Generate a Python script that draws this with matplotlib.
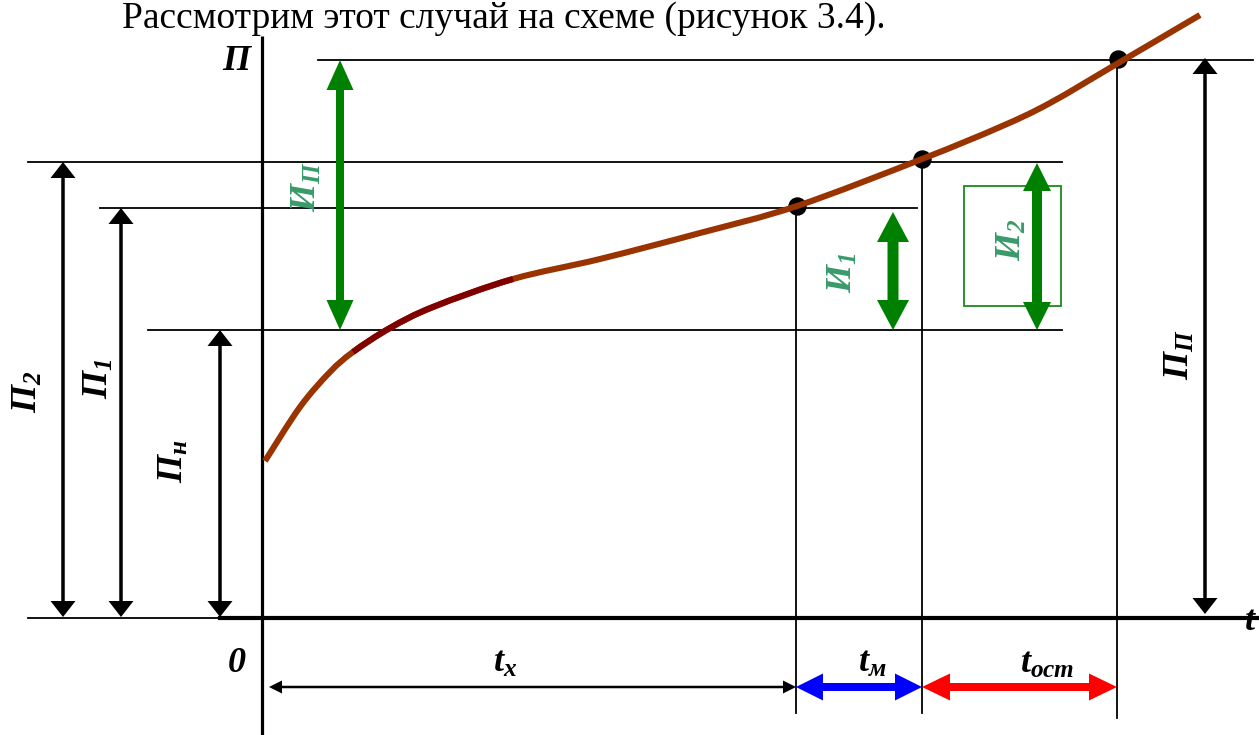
import matplotlib
matplotlib.use("Agg")
import numpy as np
import matplotlib.pyplot as plt
import matplotlib.patches as mpatches
from matplotlib.path import Path

plt.rcParams['mathtext.fontset'] = 'custom'
plt.rcParams['mathtext.rm'] = 'Liberation Serif:bold:italic'
plt.rcParams['mathtext.it'] = 'Liberation Serif:bold:italic'
plt.rcParams['mathtext.bf'] = 'Liberation Serif:bold:italic'
plt.rcParams['mathtext.default'] = 'it'

# ---- data (diagram coordinates, pixel-like units, y grows downward) ----
curve_x = [265, 300, 330, 353, 390, 433, 513, 600, 700, 797, 922, 1000, 1050, 1120, 1200]
curve_y = [461, 407, 372, 352, 328, 307, 279, 259, 233, 206, 159, 127, 103, 62, 15]
dark_from, dark_to = 3, 6          # darker section of the curve (indices)

point_x = [797, 922, 1118]
point_y = [206, 159, 59]

levels_y = [60, 162, 208, 330]       # П, П2, П1, Пн levels
levels_x0 = [318, 28, 100, 148]
levels_x1 = [1253, 1062, 917, 1062]

vlines_x = [796, 922, 1117]
vlines_top = [206, 159, 59]
vlines_bottom = [713, 713, 718]

black_arrows_x = [63, 121, 220, 1205]
black_arrows_top = [162, 208, 330, 58]
black_arrows_bottom = [617, 617, 617, 614]
black_arrow_labels = [r'$П_2$', r'$П_1$', r'$П_н$', r'$П_П$']
black_label_pos = [(27, 392), (98, 379), (173, 461), (1179, 355)]

green_arrows_x = [340, 893, 1037]
green_arrows_top = [60, 212, 163]
green_arrows_bottom = [330, 330, 330]
green_shaft = [8, 11, 10]
green_head_w = [27, 32, 28]
green_head_l = [30, 30, 28]
green_labels = [r'$И_П$', r'$И_1$', r'$И_2$']
green_label_pos = [(306, 187), (842, 273), (1011, 240)]

time_bounds = [269, 796, 922, 1117]
time_labels = [r'$t_x$', r'$t_м$', r'$t_{ост}$']
time_colors = ['black', '#0000ff', '#ff0000']
time_label_pos = [(505, 662), (872, 662), (1047, 663)]

W, H = 1259, 735
fig = plt.figure(figsize=(W / 100, H / 100), dpi=100)
ax = fig.add_axes([0, 0, 1, 1])
ax.set_xlim(0, W)
ax.set_ylim(H, 0)
ax.axis('off')

# heading text
ax.text(122, 28, 'Рассмотрим этот случай на схеме (рисунок 3.4).',
        family='Liberation Serif', fontsize=27, va='baseline', ha='left')

# axes of the diagram
ax.plot([262, 262], [36, 735], color='black', lw=2.3, solid_capstyle='butt')
ax.plot([28, 222], [618, 618], color='black', lw=1.3)
ax.plot([220, 1259], [618, 618], color='black', lw=3.0)

# level lines
for y, x0, x1 in zip(levels_y, levels_x0, levels_x1):
    ax.plot([x0, x1], [y, y], color='black', lw=1.3)

# vertical lines
for x, t, b in zip(vlines_x, vlines_top, vlines_bottom):
    ax.plot([x, x], [t, b], color='black', lw=1.3)

# green rectangle
ax.add_patch(mpatches.Rectangle((964, 186), 97, 120, fill=False,
                                edgecolor='#1a8c1a', lw=1.3))


def double_arrow(x0, y0, x1, y1, shaft, hw, hl, color):
    p0 = np.array([x0, y0], float)
    p1 = np.array([x1, y1], float)
    d = p1 - p0
    L = np.hypot(*d)
    u = d / L
    n = np.array([-u[1], u[0]])
    b0 = p0 + u * hl
    b1 = p1 - u * hl
    pts = [p0, b0 + n * hw / 2, b0 + n * shaft / 2, b1 + n * shaft / 2,
           b1 + n * hw / 2, p1, b1 - n * hw / 2, b1 - n * shaft / 2,
           b0 - n * shaft / 2, b0 - n * hw / 2]
    ax.add_patch(mpatches.Polygon(pts, closed=True, facecolor=color,
                                  edgecolor='none', zorder=3))


# black vertical arrows
for x, t, b in zip(black_arrows_x, black_arrows_top, black_arrows_bottom):
    double_arrow(x, t, x, b, 3.5, 25, 16, 'black')

# green arrows
for x, t, b, s, hw, hl in zip(green_arrows_x, green_arrows_top, green_arrows_bottom,
                              green_shaft, green_head_w, green_head_l):
    double_arrow(x, t, x, b, s, hw, hl, '#008000')

# time arrows
double_arrow(time_bounds[0], 687, time_bounds[1], 687, 2.5, 13, 13, time_colors[0])
double_arrow(time_bounds[1], 687, time_bounds[2], 687, 8, 27, 27, time_colors[1])
double_arrow(time_bounds[2], 687, time_bounds[3], 687, 8, 27, 28, time_colors[2])


def smooth_verts(xs, ys):
    """Catmull-Rom style cubic Bezier vertices through the given points."""
    P = np.column_stack([xs, ys]).astype(float)
    verts = [P[0]]
    for i in range(len(P) - 1):
        pm = P[i - 1] if i > 0 else P[i]
        pp = P[i + 2] if i + 2 < len(P) else P[i + 1]
        c1 = P[i] + (P[i + 1] - pm) / 6
        c2 = P[i + 1] - (pp - P[i]) / 6
        verts += [c1, c2, P[i + 1]]
    return verts


def bez_path(verts):
    return Path(verts, [Path.MOVETO] + [Path.CURVE4] * (len(verts) - 1))


verts = smooth_verts(curve_x, curve_y)
dark_verts = verts[3 * dark_from: 3 * dark_to + 1]

# points and curve
ax.scatter(point_x, point_y, s=150, color='black', zorder=4)
ax.add_patch(mpatches.PathPatch(bez_path(verts), fill=False,
                                edgecolor='#993300', lw=4.4, zorder=5,
                                capstyle='butt'))
ax.add_patch(mpatches.PathPatch(bez_path(dark_verts), fill=False,
                                edgecolor='#800000', lw=4.4, zorder=6,
                                capstyle='butt'))

# labels
lab_fs = 26
for txt, (x, y) in zip(black_arrow_labels, black_label_pos):
    ax.text(x, y, txt, fontsize=lab_fs, rotation=90, ha='center', va='center')
for txt, (x, y) in zip(green_labels, green_label_pos):
    ax.text(x, y, txt, fontsize=lab_fs, rotation=90, ha='center', va='center',
            color='#3a9a6a')
for txt, (x, y) in zip(time_labels, time_label_pos):
    ax.text(x, y, txt, fontsize=lab_fs, ha='center', va='center')

ax.text(238, 60, r'$П$', fontsize=lab_fs, ha='center', va='center')
ax.text(237, 662, r'$0$', fontsize=lab_fs, ha='center', va='center')
ax.text(1244, 620, r'$t$', fontsize=lab_fs, ha='left', va='center')

fig.savefig('out.png', dpi=100)
